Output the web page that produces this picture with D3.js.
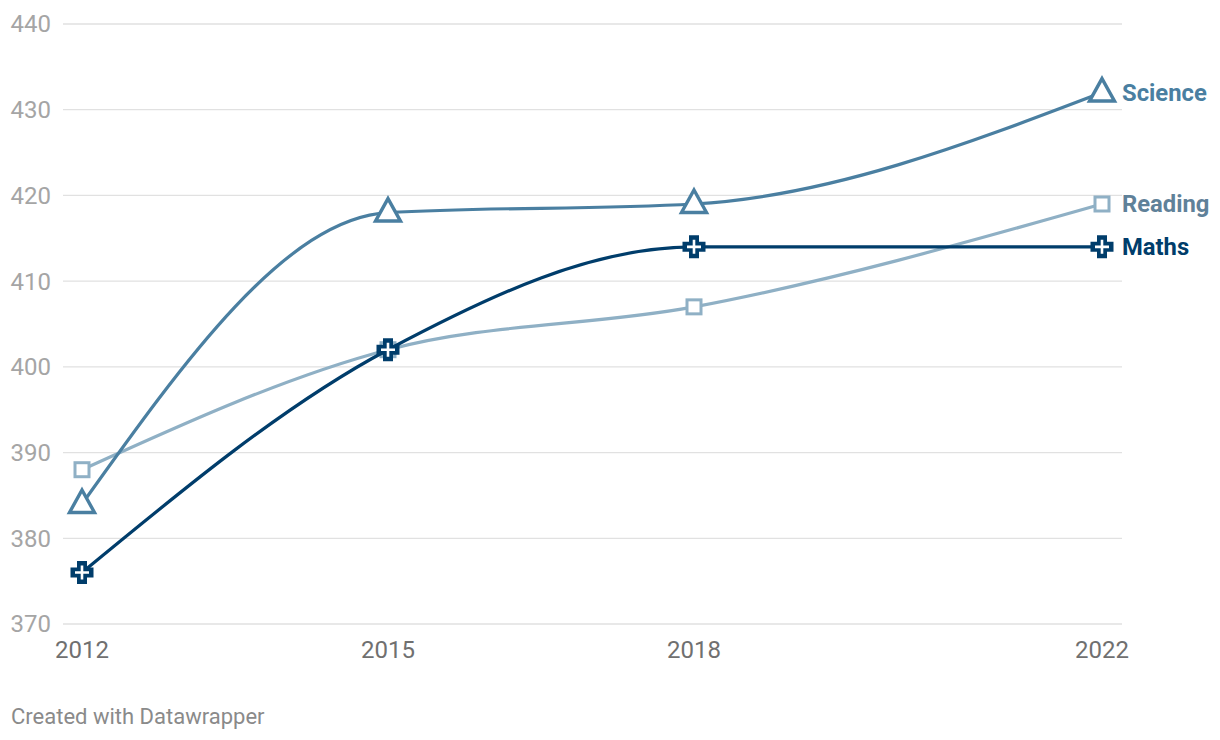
<!DOCTYPE html>
<html>
<head>
<meta charset="utf-8">
<script src="https://cdn.jsdelivr.net/npm/d3@7"></script>
<style>
  body { margin: 0; background: #fff; font-family: Roboto, "Noto Sans", sans-serif; }
</style>
</head>
<body>
<svg width="1220" height="740"></svg>
<script>
const years = [2012, 2015, 2018, 2022];
const science = [384, 418, 419, 432];
const reading = [388, 402, 407, 419];
const maths = [376, 402, 414, 414];
const yTicks = [370, 380, 390, 400, 410, 420, 430, 440];

const series = [
  { name: "Reading", values: reading, color: "#8fb0c5", labelColor: "#5f8199", marker: "square" },
  { name: "Science", values: science, color: "#4a7fa1", labelColor: "#4a7fa1", marker: "triangle" },
  { name: "Maths", values: maths, color: "#003d6b", labelColor: "#003d6b", marker: "cross" }
];

const svg = d3.select("svg");

const x = d3.scaleLinear().domain([2012, 2022]).range([82, 1102]);
const y = d3.scaleLinear().domain([370, 440]).range([624, 24]);

// gridlines
svg.append("g").selectAll("line")
  .data(yTicks)
  .enter().append("line")
  .attr("x1", 63).attr("x2", 1122)
  .attr("y1", d => y(d)).attr("y2", d => y(d))
  .style("stroke", "#e1e1e1")
  .style("stroke-width", 1.3);

// y labels
svg.append("g").selectAll("text")
  .data(yTicks)
  .enter().append("text")
  .attr("x", 51)
  .attr("y", d => y(d))
  .attr("dy", "0.35em")
  .attr("text-anchor", "end")
  .attr("font-size", 24)
  .attr("fill", "#a5a5a5")
  .text(d => d);

// x labels
svg.append("g").selectAll("text")
  .data(years)
  .enter().append("text")
  .attr("x", d => x(d))
  .attr("y", 658)
  .attr("text-anchor", "middle")
  .attr("font-size", 24)
  .attr("fill", "#707070")
  .text(d => d);

const line = d3.line()
  .x(d => x(d.year))
  .y(d => y(d.value))
  .curve(d3.curveMonotoneX);

series.forEach(s => {
  const pts = years.map((yr, i) => ({ year: yr, value: s.values[i] }));
  const g = svg.append("g");

  g.append("path")
    .datum(pts)
    .attr("d", line)
    .style("fill", "none")
    .style("stroke", s.color)
    .style("stroke-width", 3.2);

  const m = g.selectAll("g.m")
    .data(pts)
    .enter().append("g")
    .attr("transform", d => `translate(${x(d.year)},${y(d.value)})`);

  if (s.marker === "triangle") {
    m.append("path")
      .attr("d", "M0,-14 L12.5,8.5 L-12.5,8.5 Z")
      .style("fill", "#fff")
      .style("stroke", s.color)
      .style("stroke-width", 3.4)
      .style("stroke-linejoin", "miter");
  } else if (s.marker === "square") {
    m.append("rect")
      .attr("x", -7).attr("y", -7)
      .attr("width", 14).attr("height", 14)
      .style("fill", "#fff")
      .style("stroke", s.color)
      .style("stroke-width", 3);
  } else {
    m.append("path")
      .attr("d", "M-5,-11.5 H5 V-5 H11.5 V5 H5 V11.5 H-5 V5 H-11.5 V-5 H-5 Z")
      .style("fill", s.color);
    m.append("path")
      .attr("d", "M0,-7 V7 M-7,0 H7")
      .style("stroke", "#fff")
      .style("stroke-width", 2.6);
  }

  g.append("text")
    .attr("x", 1122)
    .attr("y", y(s.values[s.values.length - 1]))
    .attr("dy", "0.35em")
    .attr("font-size", 23.8)
    .attr("font-weight", 700)
    .attr("fill", s.labelColor)
    .text(s.name);
});

svg.append("text")
  .attr("x", 11)
  .attr("y", 724)
  .attr("font-size", 22)
  .attr("fill", "#8a8a8a")
  .text("Created with Datawrapper");
</script>
</body>
</html>
